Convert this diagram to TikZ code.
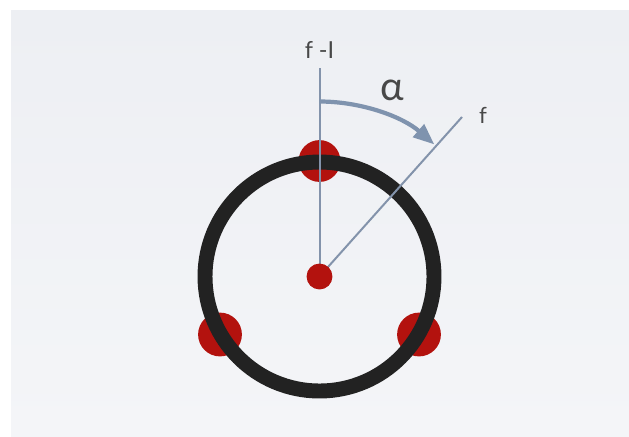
\documentclass[tikz,border=0pt]{standalone}
\usepackage{fontspec}
\setsansfont{Lato}
\usetikzlibrary{arrows.meta}
\definecolor{slidebg}{HTML}{EDEFF3}
\definecolor{slidebg2}{HTML}{F4F5F8}
\definecolor{ringcol}{HTML}{222222}
\definecolor{dotred}{HTML}{B3120E}
\definecolor{linecol}{HTML}{8393AB}
\definecolor{arccol}{HTML}{7F93AE}
\definecolor{txtcol}{HTML}{484848}
\tikzset{
  dot/.style={circle,fill=dotred,inner sep=0pt,minimum size=#1},
  axis/.style={draw=linecol,line width=1.7pt},
  lbl/.style={text=txtcol,font=\sffamily,inner sep=0pt}
}
\begin{document}
\begin{tikzpicture}[x=0.03cm,y=-0.03cm]
\useasboundingbox (0,0) rectangle (629,436);
\fill[white] (0,0) rectangle (629,436);
\shade[top color=slidebg,bottom color=slidebg2] (11,10) rectangle (629,436);
% dots on ring
\node[dot=42*0.85pt] (dtop) at (319.5,161) {};
\node[dot=44*0.85pt] (dleft) at (220,334.5) {};
\node[dot=44*0.85pt] (dright) at (419,334.5) {};
% ring
\coordinate (c) at (319.5,276.5);
\draw[ringcol,line width=15*0.85pt] (c) circle (114.5);
% axes
\coordinate (vt) at (319.5,68);
\coordinate (ft) at (462,117);
\draw[axis] (c) -- (vt);
\draw[axis] (c) -- (ft);
% centre dot
\node[dot=26*0.85pt] (cen) at (c) {};
% arc
\draw[arccol,line width=3.6pt,-{Triangle[length=18pt,width=14pt]}]
  (319.5,101.5) arc[start angle=-90,end angle=-49,radius=175];
% labels
\node[lbl,font=\sffamily\fontsize{20}{20}\selectfont] (lfi) at (319.5,50) {f -I};
\node[lbl,font=\sffamily\fontsize{34}{34}\selectfont] (lal) at (392,90) {α};
\node[lbl,font=\sffamily\fontsize{19}{19}\selectfont] (lf) at (483,115) {f};
\end{tikzpicture}
\end{document}
